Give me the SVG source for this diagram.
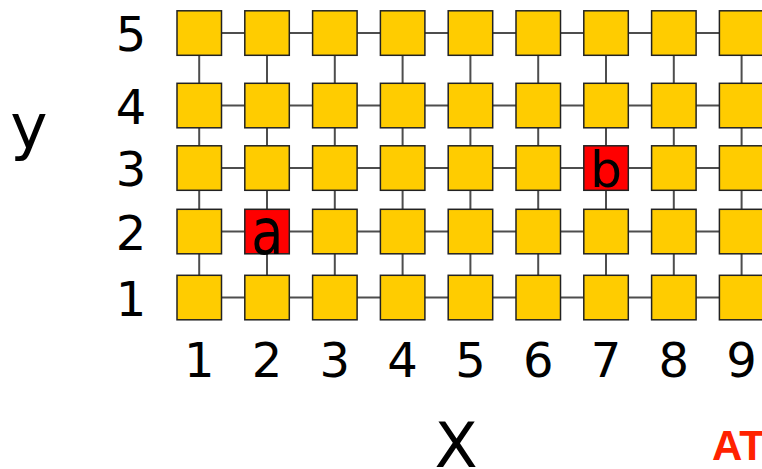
<svg xmlns="http://www.w3.org/2000/svg" width="762" height="469" viewBox="0 0 762 469">
<style>
.n{fill:#ffcc00;stroke:#222;stroke-width:1.5}
.r{fill:#ff0000;stroke:#222;stroke-width:1.5}
.e line{stroke:#4d4d4d;stroke-width:2}
.t{font-family:"DejaVu Sans",sans-serif;fill:#000}
.lab{font-size:48px;text-anchor:middle}
.ax{font-size:63px;text-anchor:middle}
</style>
<rect width="762" height="469" fill="#fff"/>
<g id="connectors" class="e">
<!-- horizontal edges -->
<g id="h-row5">
<line x1="221.5" y1="33" x2="244.8" y2="33"/><line x1="289.3" y1="33" x2="312.6" y2="33"/><line x1="357.1" y1="33" x2="380.4" y2="33"/><line x1="424.9" y1="33" x2="448.2" y2="33"/><line x1="492.7" y1="33" x2="516" y2="33"/><line x1="560.5" y1="33" x2="583.8" y2="33"/><line x1="628.3" y1="33" x2="651.6" y2="33"/><line x1="696.1" y1="33" x2="719.4" y2="33"/>
</g>
<g id="h-row4">
<line x1="221.5" y1="105.5" x2="244.8" y2="105.5"/><line x1="289.3" y1="105.5" x2="312.6" y2="105.5"/><line x1="357.1" y1="105.5" x2="380.4" y2="105.5"/><line x1="424.9" y1="105.5" x2="448.2" y2="105.5"/><line x1="492.7" y1="105.5" x2="516" y2="105.5"/><line x1="560.5" y1="105.5" x2="583.8" y2="105.5"/><line x1="628.3" y1="105.5" x2="651.6" y2="105.5"/><line x1="696.1" y1="105.5" x2="719.4" y2="105.5"/>
</g>
<g id="h-row3">
<line x1="221.5" y1="168" x2="244.8" y2="168"/><line x1="289.3" y1="168" x2="312.6" y2="168"/><line x1="357.1" y1="168" x2="380.4" y2="168"/><line x1="424.9" y1="168" x2="448.2" y2="168"/><line x1="492.7" y1="168" x2="516" y2="168"/><line x1="560.5" y1="168" x2="583.8" y2="168"/><line x1="628.3" y1="168" x2="651.6" y2="168"/><line x1="696.1" y1="168" x2="719.4" y2="168"/>
</g>
<g id="h-row2">
<line x1="221.5" y1="231.5" x2="244.8" y2="231.5"/><line x1="289.3" y1="231.5" x2="312.6" y2="231.5"/><line x1="357.1" y1="231.5" x2="380.4" y2="231.5"/><line x1="424.9" y1="231.5" x2="448.2" y2="231.5"/><line x1="492.7" y1="231.5" x2="516" y2="231.5"/><line x1="560.5" y1="231.5" x2="583.8" y2="231.5"/><line x1="628.3" y1="231.5" x2="651.6" y2="231.5"/><line x1="696.1" y1="231.5" x2="719.4" y2="231.5"/>
</g>
<g id="h-row1">
<line x1="221.5" y1="297.5" x2="244.8" y2="297.5"/><line x1="289.3" y1="297.5" x2="312.6" y2="297.5"/><line x1="357.1" y1="297.5" x2="380.4" y2="297.5"/><line x1="424.9" y1="297.5" x2="448.2" y2="297.5"/><line x1="492.7" y1="297.5" x2="516" y2="297.5"/><line x1="560.5" y1="297.5" x2="583.8" y2="297.5"/><line x1="628.3" y1="297.5" x2="651.6" y2="297.5"/><line x1="696.1" y1="297.5" x2="719.4" y2="297.5"/>
</g>
<!-- vertical edges -->
<g id="v-edges">
<line x1="199.2" y1="55.3" x2="199.2" y2="83.3"/><line x1="199.2" y1="127.8" x2="199.2" y2="145.8"/><line x1="199.2" y1="190.3" x2="199.2" y2="209.3"/><line x1="199.2" y1="253.8" x2="199.2" y2="275.3"/>
<line x1="267" y1="55.3" x2="267" y2="83.3"/><line x1="267" y1="127.8" x2="267" y2="145.8"/><line x1="267" y1="190.3" x2="267" y2="209.3"/><line x1="267" y1="253.8" x2="267" y2="275.3"/>
<line x1="334.8" y1="55.3" x2="334.8" y2="83.3"/><line x1="334.8" y1="127.8" x2="334.8" y2="145.8"/><line x1="334.8" y1="190.3" x2="334.8" y2="209.3"/><line x1="334.8" y1="253.8" x2="334.8" y2="275.3"/>
<line x1="402.6" y1="55.3" x2="402.6" y2="83.3"/><line x1="402.6" y1="127.8" x2="402.6" y2="145.8"/><line x1="402.6" y1="190.3" x2="402.6" y2="209.3"/><line x1="402.6" y1="253.8" x2="402.6" y2="275.3"/>
<line x1="470.4" y1="55.3" x2="470.4" y2="83.3"/><line x1="470.4" y1="127.8" x2="470.4" y2="145.8"/><line x1="470.4" y1="190.3" x2="470.4" y2="209.3"/><line x1="470.4" y1="253.8" x2="470.4" y2="275.3"/>
<line x1="538.2" y1="55.3" x2="538.2" y2="83.3"/><line x1="538.2" y1="127.8" x2="538.2" y2="145.8"/><line x1="538.2" y1="190.3" x2="538.2" y2="209.3"/><line x1="538.2" y1="253.8" x2="538.2" y2="275.3"/>
<line x1="606" y1="55.3" x2="606" y2="83.3"/><line x1="606" y1="127.8" x2="606" y2="145.8"/><line x1="606" y1="190.3" x2="606" y2="209.3"/><line x1="606" y1="253.8" x2="606" y2="275.3"/>
<line x1="673.8" y1="55.3" x2="673.8" y2="83.3"/><line x1="673.8" y1="127.8" x2="673.8" y2="145.8"/><line x1="673.8" y1="190.3" x2="673.8" y2="209.3"/><line x1="673.8" y1="253.8" x2="673.8" y2="275.3"/>
<line x1="741.6" y1="55.3" x2="741.6" y2="83.3"/><line x1="741.6" y1="127.8" x2="741.6" y2="145.8"/><line x1="741.6" y1="190.3" x2="741.6" y2="209.3"/><line x1="741.6" y1="253.8" x2="741.6" y2="275.3"/>
</g>
</g>
<g id="nodes">
<!-- row 5 -->
<g id="n-1-5"><rect class="n" x="177" y="10.8" width="44.5" height="44.5"/></g>
<g id="n-2-5"><rect class="n" x="244.8" y="10.8" width="44.5" height="44.5"/></g>
<g id="n-3-5"><rect class="n" x="312.6" y="10.8" width="44.5" height="44.5"/></g>
<g id="n-4-5"><rect class="n" x="380.4" y="10.8" width="44.5" height="44.5"/></g>
<g id="n-5-5"><rect class="n" x="448.2" y="10.8" width="44.5" height="44.5"/></g>
<g id="n-6-5"><rect class="n" x="516" y="10.8" width="44.5" height="44.5"/></g>
<g id="n-7-5"><rect class="n" x="583.8" y="10.8" width="44.5" height="44.5"/></g>
<g id="n-8-5"><rect class="n" x="651.6" y="10.8" width="44.5" height="44.5"/></g>
<g id="n-9-5"><rect class="n" x="719.4" y="10.8" width="44.5" height="44.5"/></g>
<!-- row 4 -->
<g id="n-1-4"><rect class="n" x="177" y="83.3" width="44.5" height="44.5"/></g>
<g id="n-2-4"><rect class="n" x="244.8" y="83.3" width="44.5" height="44.5"/></g>
<g id="n-3-4"><rect class="n" x="312.6" y="83.3" width="44.5" height="44.5"/></g>
<g id="n-4-4"><rect class="n" x="380.4" y="83.3" width="44.5" height="44.5"/></g>
<g id="n-5-4"><rect class="n" x="448.2" y="83.3" width="44.5" height="44.5"/></g>
<g id="n-6-4"><rect class="n" x="516" y="83.3" width="44.5" height="44.5"/></g>
<g id="n-7-4"><rect class="n" x="583.8" y="83.3" width="44.5" height="44.5"/></g>
<g id="n-8-4"><rect class="n" x="651.6" y="83.3" width="44.5" height="44.5"/></g>
<g id="n-9-4"><rect class="n" x="719.4" y="83.3" width="44.5" height="44.5"/></g>
<!-- row 3 -->
<g id="n-1-3"><rect class="n" x="177" y="145.8" width="44.5" height="44.5"/></g>
<g id="n-2-3"><rect class="n" x="244.8" y="145.8" width="44.5" height="44.5"/></g>
<g id="n-3-3"><rect class="n" x="312.6" y="145.8" width="44.5" height="44.5"/></g>
<g id="n-4-3"><rect class="n" x="380.4" y="145.8" width="44.5" height="44.5"/></g>
<g id="n-5-3"><rect class="n" x="448.2" y="145.8" width="44.5" height="44.5"/></g>
<g id="n-6-3"><rect class="n" x="516" y="145.8" width="44.5" height="44.5"/></g>
<g id="n-7-3"><rect class="r" x="583.8" y="145.8" width="44.5" height="44.5"/><text class="t" x="606" y="186.7" font-size="50" text-anchor="middle">b</text></g>
<g id="n-8-3"><rect class="n" x="651.6" y="145.8" width="44.5" height="44.5"/></g>
<g id="n-9-3"><rect class="n" x="719.4" y="145.8" width="44.5" height="44.5"/></g>
<!-- row 2 -->
<g id="n-1-2"><rect class="n" x="177" y="209.3" width="44.5" height="44.5"/></g>
<g id="n-2-2"><rect class="r" x="244.8" y="209.3" width="44.5" height="44.5"/><text class="t" transform="translate(267.2,254.3) scale(0.82,1)" font-size="64" text-anchor="middle">a</text></g>
<g id="n-3-2"><rect class="n" x="312.6" y="209.3" width="44.5" height="44.5"/></g>
<g id="n-4-2"><rect class="n" x="380.4" y="209.3" width="44.5" height="44.5"/></g>
<g id="n-5-2"><rect class="n" x="448.2" y="209.3" width="44.5" height="44.5"/></g>
<g id="n-6-2"><rect class="n" x="516" y="209.3" width="44.5" height="44.5"/></g>
<g id="n-7-2"><rect class="n" x="583.8" y="209.3" width="44.5" height="44.5"/></g>
<g id="n-8-2"><rect class="n" x="651.6" y="209.3" width="44.5" height="44.5"/></g>
<g id="n-9-2"><rect class="n" x="719.4" y="209.3" width="44.5" height="44.5"/></g>
<!-- row 1 -->
<g id="n-1-1"><rect class="n" x="177" y="275.3" width="44.5" height="44.5"/></g>
<g id="n-2-1"><rect class="n" x="244.8" y="275.3" width="44.5" height="44.5"/></g>
<g id="n-3-1"><rect class="n" x="312.6" y="275.3" width="44.5" height="44.5"/></g>
<g id="n-4-1"><rect class="n" x="380.4" y="275.3" width="44.5" height="44.5"/></g>
<g id="n-5-1"><rect class="n" x="448.2" y="275.3" width="44.5" height="44.5"/></g>
<g id="n-6-1"><rect class="n" x="516" y="275.3" width="44.5" height="44.5"/></g>
<g id="n-7-1"><rect class="n" x="583.8" y="275.3" width="44.5" height="44.5"/></g>
<g id="n-8-1"><rect class="n" x="651.6" y="275.3" width="44.5" height="44.5"/></g>
<g id="n-9-1"><rect class="n" x="719.4" y="275.3" width="44.5" height="44.5"/></g>
</g>
<g id="y-labels" class="t lab">
<text x="131" y="51">5</text>
<text x="131" y="123.5">4</text>
<text x="131" y="186">3</text>
<text x="131" y="249.5">2</text>
<text x="131" y="315.5">1</text>
</g>
<g id="x-labels" class="t lab">
<text x="199.2" y="377">1</text>
<text x="267" y="377">2</text>
<text x="334.8" y="377">3</text>
<text x="402.6" y="377">4</text>
<text x="470.4" y="377">5</text>
<text x="538.2" y="377">6</text>
<text x="606" y="377">7</text>
<text x="673.8" y="377">8</text>
<text x="741.6" y="377">9</text>
</g>
<text id="y-axis" class="t ax" x="29" y="148">y</text>
<text id="x-axis" class="t ax" x="456" y="467">X</text>
<text id="at" x="712" y="460" font-family="'Liberation Sans',Arial,sans-serif" font-weight="bold" font-size="42" fill="#ff2200">AT</text>
</svg>
